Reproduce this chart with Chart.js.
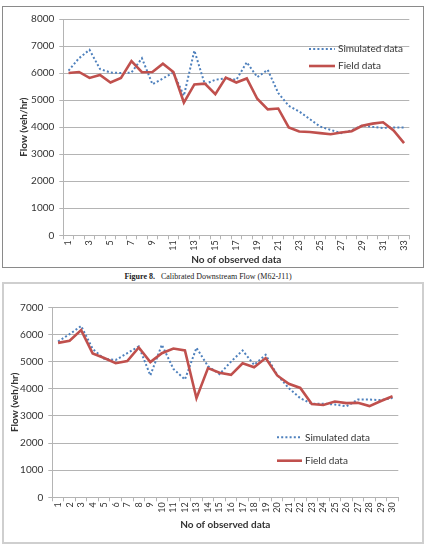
<!DOCTYPE html>
<html>
<head>
<meta charset="utf-8">
<script src="https://cdn.jsdelivr.net/npm/chart.js@4.4.1/dist/chart.umd.min.js"></script>
<style>
  html, body { margin: 0; padding: 0; background: #fff; }
  #page { position: relative; width: 429px; height: 545px; overflow: hidden; }
  .frame { position: absolute; box-sizing: border-box; }
  #frame1 { left: 2px; top: 6px; width: 422px; height: 262px; border: 1px solid #8a8a8a; }
  #frame2 { left: 2px; top: 282px; width: 422px; height: 262px; border: 2px solid #cfcfcf; }
  .wrap { position: absolute; left: 0; width: 429px; }
  #wrap1 { top: 0; height: 270px; }
  #wrap2 { top: 280px; height: 265px; }
  #caption {
    position: absolute; top: 272px; left: 0; width: 416px; text-align: center;
    font-family: "Liberation Serif", "Times New Roman", serif; font-size: 8px; color: #222;
  }
</style>
</head>
<body>
<div id="page">
  <div class="frame" id="frame1"></div>
  <div class="frame" id="frame2"></div>
  <div class="wrap" id="wrap1"><canvas id="chart1"></canvas></div>
  <div id="caption"><b>Figure 8.</b>&nbsp;&nbsp; Calibrated Downstream Flow (M62-J11)</div>
  <div class="wrap" id="wrap2"><canvas id="chart2"></canvas></div>
</div>

<script>
// -------------------------
// Data
// -------------------------
const labels1 = ["1","2","3","4","5","6","7","8","9","10","11","12","13","14","15","16","17",
  "18","19","20","21","22","23","24","25","26","27","28","29","30","31","32","33"];
const simulated1 = [6090, 6550, 6860, 6150, 6020, 6000, 6020, 6550, 5590, 5800, 6020, 5160, 6830,
  5590, 5750, 5810, 5750, 6400, 5850, 6120, 5260, 4790, 4580, 4300, 4020, 3900, 3780, 3880,
  4070, 4010, 3970, 3990, 3990];
const field1 = [6000, 6040, 5820, 5930, 5650, 5820, 6440, 6030, 6040, 6350, 6040, 4910, 5580,
  5610, 5220, 5830, 5650, 5800, 5050, 4660, 4690, 3990, 3840, 3820, 3780, 3740, 3800, 3850,
  4050, 4130, 4180, 3880, 3410];

const labels2 = ["1","2","3","4","5","6","7","8","9","10","11","12","13","14","15","16","17",
  "18","19","20","21","22","23","24","25","26","27","28","29","30"];
const simulated2 = [5740, 6010, 6310, 5470, 5100, 5060, 5310, 5560, 4490, 5620, 4730, 4340, 5510,
  4830, 4540, 5000, 5410, 4880, 5250, 4510, 4020, 3650, 3450, 3450, 3420, 3350, 3600, 3600,
  3580, 3660];
const field2 = [5690, 5770, 6160, 5300, 5130, 4940, 5020, 5520, 4980, 5310, 5480, 5410, 3650,
  4760, 4590, 4510, 4940, 4790, 5130, 4490, 4180, 4030, 3440, 3400, 3530, 3470, 3480, 3360,
  3550, 3720];

// -------------------------
// Styling
// -------------------------
const FONT = "Lato, 'Liberation Sans', sans-serif";
const TEXT = "#333";
const GRID = "#b4b4b4";
const BLUE = "#4f81bd";
const RED = "#c0504d";

// legend drawn inside the plot, like the Excel original
const insideLegend = {
  id: "insideLegend",
  afterDraw(chart, args, o) {
    const ctx = chart.ctx;
    chart.data.datasets.forEach((ds, i) => {
      const y = o.y + i * o.gap;
      ctx.save();
      ctx.strokeStyle = ds.borderColor;
      ctx.lineWidth = ds.borderWidth;
      ctx.setLineDash(ds.borderDash || []);
      ctx.beginPath();
      ctx.moveTo(o.x, y);
      ctx.lineTo(o.x + o.len, y);
      ctx.stroke();
      ctx.setLineDash([]);
      ctx.fillStyle = TEXT;
      ctx.font = `10px ${FONT}`;
      ctx.textBaseline = "middle";
      ctx.fillText(ds.label, o.x + o.len + 3, y);
      ctx.restore();
    });
  },
};

function buildChart(id, cfg) {
  return new Chart(document.getElementById(id), {
    type: "line",
    data: {
      labels: cfg.labels,
      datasets: [
        { label: "Simulated data", data: cfg.simulated, borderColor: BLUE, borderWidth: 2,
          borderDash: [2, 2.2], pointRadius: 0, tension: 0, order: 1 },
        { label: "Field data", data: cfg.field, borderColor: RED, borderWidth: 2.6,
          pointRadius: 0, tension: 0, order: 0 },
      ],
    },
    options: {
      responsive: true,
      maintainAspectRatio: false,
      animation: false,
      layout: { padding: cfg.padding },
      plugins: {
        legend: { display: false },
        tooltip: { enabled: false },
        insideLegend: cfg.legend,
      },
      scales: {
        x: {
          offset: true,
          afterFit: s => { s.height = cfg.xHeight; },
          grid: { offset: true, drawOnChartArea: false, drawTicks: true, tickLength: 4, color: GRID },
          border: { color: GRID },
          ticks: {
            autoSkip: false, maxRotation: 90, minRotation: 90, padding: 1,
            color: TEXT, font: { family: FONT, size: 9 },
            callback: function (v, i) { return cfg.everyOther && i % 2 ? "" : this.getLabelForValue(v); },
          },
          title: {
            display: true, text: "No of observed data", color: TEXT,
            font: { family: FONT, size: 10, weight: "bold" }, padding: { top: 0, bottom: cfg.xTitlePad },
          },
        },
        y: {
          min: 0, max: cfg.yMax,
          afterFit: s => { s.width = cfg.yWidth; },
          grid: { color: GRID, tickLength: 4 },
          border: { color: GRID },
          ticks: {
            stepSize: 1000, padding: 5, color: TEXT, font: { family: FONT, size: 10 },
            callback: v => String(v),
          },
          title: {
            display: true, text: "Flow (veh/hr)", color: TEXT,
            font: { family: FONT, size: 10, weight: "bold" }, padding: { top: cfg.yTitlePad, bottom: 0 },
          },
        },
      },
    },
    plugins: [insideLegend],
  });
}

buildChart("chart1", {
  labels: labels1, simulated: simulated1, field: field1, yMax: 8000, everyOther: true,
  padding: { left: 0, top: 19, right: 19.7, bottom: 0 },
  yWidth: 63.3, xHeight: 34.7, xTitlePad: 4, yTitlePad: 18,
  legend: { x: 309, y: 49, gap: 17, len: 26 },
});

buildChart("chart2", {
  labels: labels2, simulated: simulated2, field: field2, yMax: 7000, everyOther: false,
  padding: { left: 0, top: 27.3, right: 30.7, bottom: 10 },
  yWidth: 52.3, xHeight: 37.7, xTitlePad: 4, yTitlePad: 9,
  legend: { x: 277, y: 157.3, gap: 23.4, len: 25 },
});
</script>
</body>
</html>
